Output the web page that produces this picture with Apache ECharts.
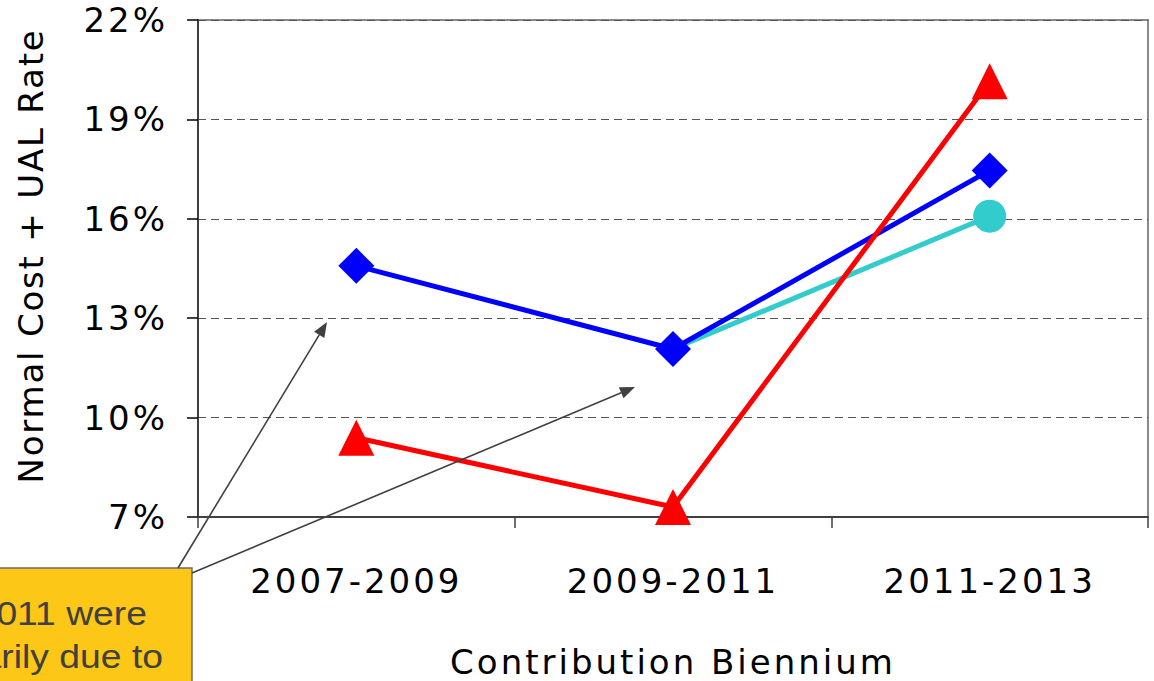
<!DOCTYPE html>
<html>
<head>
<meta charset="utf-8">
<script src="https://cdn.jsdelivr.net/npm/echarts@6/dist/echarts.min.js"></script>
<style>
  html, body { margin: 0; padding: 0; background: #fff; }
  #chart { width: 1154px; height: 681px; }
  /* widen the tracking of the axis lettering */
  #chart svg text { letter-spacing: 3px; }
  #chart svg text[style*="Geneva"] { letter-spacing: 1.8px; }
  #chart svg text[style*="Liberation"] { letter-spacing: 0; }
</style>
</head>
<body>
<div id="chart"></div>
<script>
// Contribution biennia on the x axis
const biennia = ['2007-2009', '2009-2011', '2011-2013'];
// Normal cost + UAL rate, in percent
const blueRates = [14.58, 12.07, 17.46];
const cyanRates = [null, 12.07, 16.08];
const redRates = [9.39, 7.30, 20.15];
// Value axis ticks
const yMin = 7, yMax = 22, yStep = 3;

const AXIS_FONT = '"DejaVu Sans", Verdana, sans-serif';
const TITLE_FONT = '"DejaVu Sans", Verdana, Geneva, sans-serif';
const NOTE_FONT = '"Liberation Sans", Arial, sans-serif';

// thin call-out arrow: a line with a filled head at (x2, y2)
function arrow(x1, y1, x2, y2) {
  const dx = x2 - x1, dy = y2 - y1;
  const len = Math.sqrt(dx * dx + dy * dy);
  const ux = dx / len, uy = dy / len;
  const headL = 15, headW = 6;
  const bx = x2 - ux * headL, by = y2 - uy * headL;
  return [
    { type: 'line', z: 20, shape: { x1: x1, y1: y1, x2: bx, y2: by },
      style: { stroke: '#404040', lineWidth: 1.6 } },
    { type: 'polygon', z: 20,
      shape: { points: [[x2, y2], [bx - uy * headW, by + ux * headW], [bx + uy * headW, by - ux * headW]] },
      style: { fill: '#404040' } }
  ];
}

const chart = echarts.init(document.getElementById('chart'), null, { renderer: 'svg' });

chart.setOption({
  animation: false,
  backgroundColor: '#ffffff',
  grid: {
    left: 198, right: 6, top: 20, bottom: 164,
    outerBoundsMode: 'none',
    show: true, borderColor: '#8a8a8a', borderWidth: 2, backgroundColor: 'transparent'
  },
  xAxis: {
    type: 'category',
    data: biennia,
    boundaryGap: true,
    name: 'Contribution Biennium',
    nameLocation: 'middle',
    nameGap: 128,
    nameTextStyle: { fontFamily: AXIS_FONT, fontSize: 34, lineHeight: 34, color: '#000' },
    axisLine: { lineStyle: { color: '#404040', width: 2 } },
    axisTick: { show: true, inside: false, length: 11, lineStyle: { color: '#404040', width: 1.5 } },
    axisLabel: { margin: 47, fontFamily: AXIS_FONT, fontSize: 34, color: '#000' },
    splitLine: { show: false }
  },
  yAxis: {
    type: 'value',
    min: yMin, max: yMax, interval: yStep,
    axisLine: { show: true, lineStyle: { color: '#404040', width: 2 } },
    axisTick: { show: true, inside: false, length: 11, lineStyle: { color: '#000', width: 1.5 } },
    axisLabel: { margin: 30, fontFamily: AXIS_FONT, fontSize: 34, color: '#000', formatter: '{value}%' },
    splitLine: { show: true, lineStyle: { color: '#555', width: 1, type: [8, 5] } }
  },
  series: [
    {
      name: 'Scenario C', type: 'line', data: cyanRates.map((v, i) => i === 1 ? { value: v, symbol: 'none' } : v),
      symbol: 'circle', symbolSize: 33, clip: false, connectNulls: false,
      lineStyle: { color: '#33CCCC', width: 5 }, itemStyle: { color: '#33CCCC' }, z: 2
    },
    {
      name: 'Scenario B', type: 'line', data: blueRates,
      symbol: 'diamond', symbolSize: 36, clip: false,
      lineStyle: { color: '#0000FF', width: 5 }, itemStyle: { color: '#0000FF' }, z: 3
    },
    {
      name: 'Scenario A', type: 'line', data: redRates,
      symbol: 'triangle', symbolSize: 36, clip: false,
      lineStyle: { color: '#FF0000', width: 5 }, itemStyle: { color: '#FF0000' }, z: 4
    }
  ],
  graphic: [
    {
      type: 'text', z: 10, x: 31, y: 256, rotation: Math.PI / 2,
      style: { text: 'Normal Cost + UAL Rate', fontFamily: TITLE_FONT, fontSize: 34, fill: '#000',
               textAlign: 'center', textVerticalAlign: 'middle' }
    },
    {
      type: 'rect', z: 15, shape: { x: -4, y: 568, width: 196, height: 130 },
      style: { fill: '#FCC716', stroke: '#6E6E6E', lineWidth: 1.5 }
    },
    {
      type: 'text', z: 16, x: 147, y: 613, scaleX: 1.13,
      style: { text: '2009-2011 were', fontFamily: NOTE_FONT, fontSize: 33,
               fill: '#404040', textAlign: 'right', textVerticalAlign: 'middle' }
    },
    {
      type: 'text', z: 16, x: 163, y: 656, scaleX: 1.13,
      style: { text: 'primarily due to', fontFamily: NOTE_FONT, fontSize: 33,
               fill: '#404040', textAlign: 'right', textVerticalAlign: 'middle' }
    }
  ].concat(arrow(178, 568, 327, 322), arrow(192, 573, 635, 387))
});
</script>
</body>
</html>
